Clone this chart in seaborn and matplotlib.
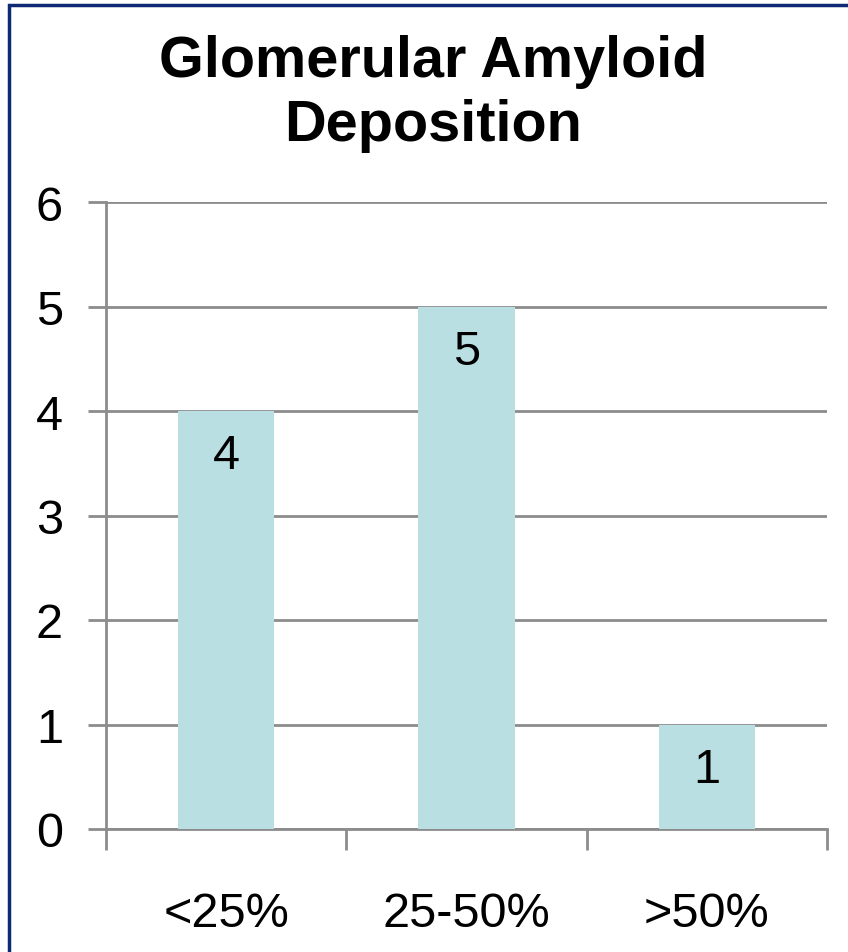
import matplotlib
matplotlib.use("Agg")
import matplotlib.pyplot as plt
import seaborn as sns
import pandas as pd
from matplotlib.patches import Rectangle

categories = ["<25%", "25-50%", ">50%"]
counts = [4, 5, 1]
y_ticks = [0, 1, 2, 3, 4, 5, 6]

sns.set_style("white")
plt.rcParams["font.family"] = ["Liberation Sans", "DejaVu Sans"]
plt.rcParams["text.color"] = "black"
plt.rcParams["xtick.color"] = "black"
plt.rcParams["ytick.color"] = "black"

df = pd.DataFrame({"category": categories, "count": counts})

fig = plt.figure(figsize=(8.48, 9.53), dpi=100)
ax = fig.add_axes([106 / 848, 1 - 830 / 953, (827 - 106) / 848, (830 - 203) / 953])

sns.barplot(data=df, x="category", y="count", color="#B9DFE3", saturation=1,
            width=0.4, linewidth=0, ax=ax, zorder=3)

ax.set_ylim(0, 6)
ax.set_xlim(-0.5, 2.5)
ax.set_yticks(y_ticks)
ax.yaxis.grid(True, color="#8C8C8C", linewidth=2, zorder=0)
ax.set_axisbelow(True)
for name, sp in ax.spines.items():
    sp.set_visible(name in ("left", "bottom"))
    sp.set_color("#8C8C8C")
    sp.set_linewidth(2)

ax.tick_params(axis="y", direction="out", length=13, width=2, color="#8C8C8C",
               labelsize=35, pad=18, left=True, labelcolor="black")
ax.set_xticks([-0.5, 0.5, 1.5, 2.5], minor=True)
ax.tick_params(axis="x", which="minor", direction="out", length=15, width=2,
               color="#8C8C8C", bottom=True)
ax.tick_params(axis="x", which="major", length=0, labelsize=35, pad=45,
               labelcolor="black")
ax.set_xlabel("")
ax.set_ylabel("")

for i, v in enumerate(counts):
    ax.text(i, v - 0.43, str(v), ha="center", va="center", fontsize=35,
            color="black", zorder=4)

fig.text(433 / 848, 1 - 94 / 953, "Glomerular Amyloid\nDeposition", ha="center",
         va="center", fontsize=41.5, fontweight="bold", linespacing=1.25,
         color="black")

# slide frame
fig.add_artist(Rectangle((9 / 848, -0.05), 1.0, 1 - 6 / 953 + 0.05,
                         transform=fig.transFigure, fill=False,
                         edgecolor="#0F2A75", linewidth=2.5))

fig.savefig("out.png", dpi=100, facecolor="white")
